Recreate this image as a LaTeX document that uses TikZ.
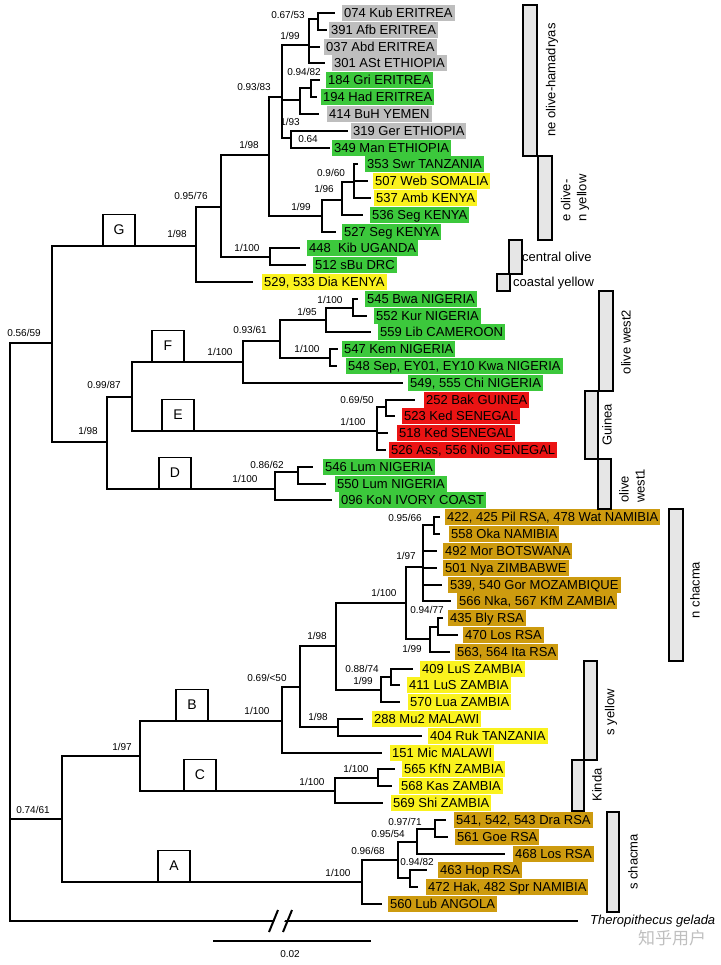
\documentclass[tikz,border=0pt]{standalone}
\usepackage{fontspec}
\setmainfont{Liberation Sans}
\newfontfamily\cjkfont{Noto Sans CJK SC}
\definecolor{cgray}{RGB}{190,190,190}
\definecolor{cgreen}{RGB}{60,200,60}
\definecolor{cyellow}{RGB}{250,242,30}
\definecolor{cred}{RGB}{235,20,20}
\definecolor{cchacma}{RGB}{205,155,15}
\definecolor{barfill}{RGB}{230,230,230}
\begin{document}
\begin{tikzpicture}[x=1pt,y=-1pt,
    branch/.style={line width=2.3pt,to path={|- (\tikztotarget)}},
    leaf/.style={anchor=west,fill=#1,inner xsep=2pt,inner ysep=0.75pt,
                 text height=12.3pt,text depth=3pt,font=\fontsize{13}{15}\selectfont},
    supp/.style={inner sep=0pt,font=\fontsize{10}{12}\selectfont},
    cladebox/.style={draw,line width=1.1pt,fill=white,anchor=south,minimum width=32pt,
                     minimum height=31pt,inner sep=0pt,font=\fontsize{14}{16}\selectfont},
    bar/.style={draw,line width=1.1pt,fill=barfill},
    barlabel/.style={rotate=90,inner sep=0pt,align=left,font=\fontsize{13}{16}\selectfont}
  ]
   \useasboundingbox (0,0) rectangle (720,965);

   % internal nodes of the tree
   \coordinate (root) at (10,819);
   \coordinate (n56) at (52,343);
   \coordinate (nG) at (196,246);
   \coordinate (n95) at (221,207);
   \coordinate (n93) at (269,155);
   \coordinate (nNE) at (282,97);
   \coordinate (n309) at (309,45);
   \coordinate (n318) at (318,19);
   \coordinate (n300) at (300,100);
   \coordinate (n311) at (311,88);
   \coordinate (n291) at (291,138);
   \coordinate (n199) at (322,216);
   \coordinate (n196) at (342,200);
   \coordinate (n090) at (354,182);
   \coordinate (nKib) at (270,257);
   \coordinate (nDEF) at (107,442);
   \coordinate (n99) at (132,397);
   \coordinate (nF) at (243,362);
   \coordinate (n9361) at (280,341);
   \coordinate (n195) at (326,320);
   \coordinate (n545) at (353,308);
   \coordinate (n547) at (330,358);
   \coordinate (nE) at (377,431);
   \coordinate (n069) at (386,407);
   \coordinate (nD) at (275,489);
   \coordinate (n086) at (298,472);
   \coordinate (n74) at (62,819);
   \coordinate (n97) at (140,756);
   \coordinate (nB) at (282,721);
   \coordinate (n98a) at (300,687);
   \coordinate (n98b) at (336,646);
   \coordinate (n100n) at (406,603);
   \coordinate (n97n) at (423,567);
   \coordinate (n095) at (434,525);
   \coordinate (n199b) at (430,639);
   \coordinate (n094) at (438,627);
   \coordinate (n088) at (381,690);
   \coordinate (n409) at (391,677);
   \coordinate (n98c) at (338,727);
   \coordinate (nC) at (335,791);
   \coordinate (n565) at (378,778);
   \coordinate (nA) at (362,882);
   \coordinate (n095b) at (398,860);
   \coordinate (n417) at (417,842);
   \coordinate (n097b) at (435,829);
   \coordinate (n094b) at (410,878);

   % leaves: tip of the branch, then the highlighted label
   \coordinate (t074) at (335,13);  \node[leaf=cgray] (l074) at (342,13) {074 Kub ERITREA};
   \coordinate (t391) at (327,30);  \node[leaf=cgray] (l391) at (329,30) {391 Afb ERITREA};
   \coordinate (t037) at (320,47);  \node[leaf=cgray] (l037) at (324,47) {037 Abd ERITREA};
   \coordinate (t301) at (325,63);  \node[leaf=cgray] (l301) at (332,63) {301 ASt ETHIOPIA};
   \coordinate (t184) at (320,80);  \node[leaf=cgreen] (l184) at (326,80) {184 Gri ERITREA};
   \coordinate (t194) at (317,97);  \node[leaf=cgreen] (l194) at (321,97) {194 Had ERITREA};
   \coordinate (t414) at (319,114); \node[leaf=cgray] (l414) at (327,114) {414 BuH YEMEN};
   \coordinate (t319) at (348,131); \node[leaf=cgray] (l319) at (351,131) {319 Ger ETHIOPIA};
   \coordinate (t349) at (330,148); \node[leaf=cgreen] (l349) at (332,148) {349 Man ETHIOPIA};
   \coordinate (t353) at (358,164); \node[leaf=cgreen] (l353) at (365,164) {353 Swr TANZANIA};
   \coordinate (t507) at (368,181); \node[leaf=cyellow] (l507) at (373,181) {507 Web SOMALIA};
   \coordinate (t537) at (371,198); \node[leaf=cyellow] (l537) at (374,198) {537 Amb KENYA};
   \coordinate (t536) at (363,215); \node[leaf=cgreen] (l536) at (370,215) {536 Seg KENYA};
   \coordinate (t527) at (336,232); \node[leaf=cgreen] (l527) at (342,232) {527 Seg KENYA};
   \coordinate (t448) at (300,248); \node[leaf=cgreen] (l448) at (307,248) {448\ \ Kib UGANDA};
   \coordinate (t512) at (306,265); \node[leaf=cgreen] (l512) at (313,265) {512 sBu DRC};
   \coordinate (t529) at (253,282); \node[leaf=cyellow] (l529) at (262,282) {529, 533 Dia KENYA};
   \coordinate (t545) at (358,299); \node[leaf=cgreen] (l545) at (365,299) {545 Bwa NIGERIA};
   \coordinate (t552) at (367,316); \node[leaf=cgreen] (l552) at (374,316) {552 Kur NIGERIA};
   \coordinate (t559) at (371,332); \node[leaf=cgreen] (l559) at (378,332) {559 Lib CAMEROON};
   \coordinate (t547) at (338,349); \node[leaf=cgreen] (l547) at (342,349) {547 Kem NIGERIA};
   \coordinate (t548) at (337,366); \node[leaf=cgreen] (l548) at (346,366) {548 Sep, EY01, EY10 Kwa NIGERIA};
   \coordinate (t549) at (403,383); \node[leaf=cgreen] (l549) at (408,383) {549, 555 Chi NIGERIA};
   \coordinate (t252) at (415,400); \node[leaf=cred] (l252) at (424,400) {252 Bak GUINEA};
   \coordinate (t523) at (395,416); \node[leaf=cred] (l523) at (402,416) {523 Ked SENEGAL};
   \coordinate (t518) at (388,433); \node[leaf=cred] (l518) at (397,433) {518 Ked SENEGAL};
   \coordinate (t526) at (386,450); \node[leaf=cred] (l526) at (389,450) {526 Ass, 556 Nio SENEGAL};
   \coordinate (t546) at (313,467); \node[leaf=cgreen] (l546) at (323,467) {546 Lum NIGERIA};
   \coordinate (t550) at (326,484); \node[leaf=cgreen] (l550) at (335,484) {550 Lum NIGERIA};
   \coordinate (t096) at (332,500); \node[leaf=cgreen] (l096) at (339,500) {096 KoN IVORY COAST};
   \coordinate (t422) at (440,517); \node[leaf=cchacma] (l422) at (445,517) {422, 425 Pil RSA, 478 Wat NAMIBIA};
   \coordinate (t558) at (440,534); \node[leaf=cchacma] (l558) at (449,534) {558 Oka NAMIBIA};
   \coordinate (t492) at (437,551); \node[leaf=cchacma] (l492) at (443,551) {492 Mor BOTSWANA};
   \coordinate (t501) at (437,568); \node[leaf=cchacma] (l501) at (443,568) {501 Nya ZIMBABWE};
   \coordinate (t539) at (442,585); \node[leaf=cchacma] (l539) at (448,585) {539, 540 Gor MOZAMBIQUE};
   \coordinate (t566) at (451,601); \node[leaf=cchacma] (l566) at (457,601) {566 Nka, 567 KfM ZAMBIA};
   \coordinate (t435) at (443,618); \node[leaf=cchacma] (l435) at (448,618) {435 Bly RSA};
   \coordinate (t470) at (458,635); \node[leaf=cchacma] (l470) at (463,635) {470 Los RSA};
   \coordinate (t563) at (450,652); \node[leaf=cchacma] (l563) at (455,652) {563, 564 Ita RSA};
   \coordinate (t409) at (413,669); \node[leaf=cyellow] (l409) at (420,669) {409 LuS ZAMBIA};
   \coordinate (t411) at (400,685); \node[leaf=cyellow] (l411) at (407,685) {411 LuS ZAMBIA};
   \coordinate (t570) at (400,702); \node[leaf=cyellow] (l570) at (408,702) {570 Lua ZAMBIA};
   \coordinate (t288) at (363,719); \node[leaf=cyellow] (l288) at (372,719) {288 Mu2 MALAWI};
   \coordinate (t404) at (422,736); \node[leaf=cyellow] (l404) at (428,736) {404 Ruk TANZANIA};
   \coordinate (t151) at (382,753); \node[leaf=cyellow] (l151) at (390,753) {151 Mic MALAWI};
   \coordinate (t565) at (395,769); \node[leaf=cyellow] (l565) at (402,769) {565 KfN ZAMBIA};
   \coordinate (t568) at (392,786); \node[leaf=cyellow] (l568) at (399,786) {568 Kas ZAMBIA};
   \coordinate (t569) at (383,803); \node[leaf=cyellow] (l569) at (391,803) {569 Shi ZAMBIA};
   \coordinate (t541) at (446,820); \node[leaf=cchacma] (l541) at (454,820) {541, 542, 543 Dra RSA};
   \coordinate (t561) at (448,837); \node[leaf=cchacma] (l561) at (455,837) {561 Goe RSA};
   \coordinate (t468) at (505,854); \node[leaf=cchacma] (l468) at (513,854) {468 Los RSA};
   \coordinate (t463) at (427,870); \node[leaf=cchacma] (l463) at (438,870) {463 Hop RSA};
   \coordinate (t472) at (418,887); \node[leaf=cchacma] (l472) at (426,887) {472 Hak, 482 Spr NAMIBIA};
   \coordinate (t560) at (382,904); \node[leaf=cchacma] (l560) at (388,904) {560 Lub ANGOLA};
   \coordinate (tThero) at (578,921);
   \node[anchor=west,inner sep=0pt,font=\fontsize{13}{15}\selectfont\itshape] (lThero) at (590,921) {Theropithecus gelada};

   % branches
   \path[branch]
     (root) edge (n56) edge (n74) edge (tThero)
     (n56) edge (nG) edge (nDEF)
     (nG) edge (n95) edge (t529)
     (n95) edge (n93) edge (nKib)
     (n93) edge (nNE) edge (n199)
     (nNE) edge (n309) edge (n300) edge (n291)
     (n309) edge (n318) edge (t037) edge (t301)
     (n318) edge (t074) edge (t391)
     (n300) edge (n311) edge (t414)
     (n311) edge (t184) edge (t194)
     (n291) edge (t319) edge (t349)
     (n199) edge (n196) edge (t527)
     (n196) edge (n090) edge (t536)
     (n090) edge (t353) edge (t507) edge (t537)
     (nKib) edge (t448) edge (t512)
     (nDEF) edge (n99) edge (nD)
     (n99) edge (nF) edge (nE)
     (nF) edge (n9361) edge (t549)
     (n9361) edge (n195) edge (n547)
     (n195) edge (n545) edge (t559)
     (n545) edge (t545) edge (t552)
     (n547) edge (t547) edge (t548)
     (nE) edge (n069) edge (t518) edge (t526)
     (n069) edge (t252) edge (t523)
     (nD) edge (n086) edge (t096)
     (n086) edge (t546) edge (t550)
     (n74) edge (n97) edge (nA)
     (n97) edge (nB) edge (nC)
     (nB) edge (n98a) edge (t151)
     (n98a) edge (n98b) edge (n98c)
     (n98b) edge (n100n) edge (n088)
     (n100n) edge (n97n) edge (n199b)
     (n97n) edge (n095) edge (t492) edge (t501) edge (t539) edge (t566)
     (n095) edge (t422) edge (t558)
     (n199b) edge (n094) edge (t563)
     (n094) edge (t435) edge (t470)
     (n088) edge (n409) edge (t570)
     (n409) edge (t409) edge (t411)
     (n98c) edge (t288) edge (t404)
     (nC) edge (n565) edge (t569)
     (n565) edge (t565) edge (t568)
     (nA) edge (n095b) edge (t560)
     (n095b) edge (n417) edge (n094b)
     (n417) edge (n097b) edge (t468)
     (n097b) edge (t541) edge (t561)
     (n094b) edge (t463) edge (t472);

   % break in the outgroup branch
   \fill[white] (273,924) -- (279,912) -- (289,912) -- (283,924) -- cycle;
   \draw[line width=2pt] (269,932) -- (278,910) (283,932) -- (292,910);

   % clade letters
   \node[cladebox] (boxG) at (119,246) {G};
   \node[cladebox] (boxF) at (168,362) {F};
   \node[cladebox] (boxE) at (178,431) {E};
   \node[cladebox] (boxD) at (175,489) {D};
   \node[cladebox] (boxB) at (192,721) {B};
   \node[cladebox] (boxC) at (200,791) {C};
   \node[cladebox] (boxA) at (174,882) {A};

   % support values
   \node[supp] (s318) at (288,15) {0.67/53};
   \node[supp] (s309) at (290,36) {1/99};
   \node[supp] (s311) at (304,72) {0.94/82};
   \node[supp] (s93) at (254,87) {0.93/83};
   \node[supp] (s300) at (290,122) {1/93};
   \node[supp] (s291) at (308,139) {0.64};
   \node[supp] (s93b) at (249,145) {1/98};
   \node[supp] (s090) at (331,173) {0.9/60};
   \node[supp] (s196) at (324,189) {1/96};
   \node[supp] (s199) at (301,207) {1/99};
   \node[supp] (s95) at (191,196) {0.95/76};
   \node[supp] (sG) at (177,234) {1/98};
   \node[supp] (sKib) at (247,248) {1/100};
   \node[supp] (s56) at (24,333) {0.56/59};
   \node[supp] (s545) at (330,300) {1/100};
   \node[supp] (s195) at (307,312) {1/95};
   \node[supp] (s9361) at (250,330) {0.93/61};
   \node[supp] (sF) at (220,352) {1/100};
   \node[supp] (s547) at (307,349) {1/100};
   \node[supp] (s99) at (104,385) {0.99/87};
   \node[supp] (sDEF) at (88,431) {1/98};
   \node[supp] (s069) at (357,400) {0.69/50};
   \node[supp] (sE) at (353,422) {1/100};
   \node[supp] (s086) at (267,465) {0.86/62};
   \node[supp] (sD) at (245,479) {1/100};
   \node[supp] (s095) at (405,518) {0.95/66};
   \node[supp] (s97n) at (406,556) {1/97};
   \node[supp] (s100n) at (384,593) {1/100};
   \node[supp] (s094) at (427,610) {0.94/77};
   \node[supp] (s199b) at (412,649) {1/99};
   \node[supp] (s98b) at (317,636) {1/98};
   \node[supp] (s409) at (362,669) {0.88/74};
   \node[supp] (s088) at (363,681) {1/99};
   \node[supp] (s98a) at (267,678) {0.69/<50};
   \node[supp] (s98c) at (318,717) {1/98};
   \node[supp] (sB) at (257,711) {1/100};
   \node[supp] (s97) at (122,747) {1/97};
   \node[supp] (s565) at (356,769) {1/100};
   \node[supp] (sC) at (312,782) {1/100};
   \node[supp] (s74) at (33,810) {0.74/61};
   \node[supp] (s097b) at (405,822) {0.97/71};
   \node[supp] (s417) at (388,834) {0.95/54};
   \node[supp] (s095b) at (368,851) {0.96/68};
   \node[supp] (s094b) at (417,862) {0.94/82};
   \node[supp] (sA) at (338,873) {1/100};

   % clade bars
   \draw[bar] (523,5) rectangle (537,156);
   \draw[bar] (538,156) rectangle (552,240);
   \draw[bar] (509,240) rectangle (522,274);
   \draw[bar] (497,274) rectangle (510,291);
   \draw[bar] (599,291) rectangle (613,391);
   \draw[bar] (585,391) rectangle (598,459);
   \draw[bar] (598,459) rectangle (611,509);
   \draw[bar] (669,509) rectangle (683,661);
   \draw[bar] (584,661) rectangle (597,760);
   \draw[bar] (572,760) rectangle (584,811);
   \draw[bar] (607,812) rectangle (619,912);
   \node[barlabel] (bNE) at (552,80) {ne olive-hamadryas};
   \node[barlabel] (bEO) at (575,198) {e olive-\\n yellow};
   \node[anchor=west,inner sep=0pt,font=\fontsize{13}{15}\selectfont] (bCO) at (522,257) {central olive};
   \node[anchor=west,inner sep=0pt,font=\fontsize{13}{15}\selectfont] (bCY) at (513,283) {coastal yellow};
   \node[barlabel] (bW2) at (626,342) {olive west2};
   \node[barlabel] (bGu) at (607,425) {Guinea};
   \node[barlabel] (bW1) at (632,486) {olive\\west1};
   \node[barlabel] (bNC) at (695,590) {n chacma};
   \node[barlabel] (bSY) at (611,712) {s yellow};
   \node[barlabel] (bKi) at (597,785) {Kinda};
   \node[barlabel] (bSC) at (633,862) {s chacma};

   % scale bar
   \coordinate (sbL) at (213,941);
   \coordinate (sbR) at (371,941);
   \draw[line width=1.3pt] (sbL) -- (sbR);
   \node[supp] (sbT) at (290,954) {0.02};

   \node[font=\fontsize{17}{17}\selectfont\cjkfont,text=black!25,inner sep=0pt] (wm) at (672,938) {知乎用户};
\end{tikzpicture}
\end{document}
